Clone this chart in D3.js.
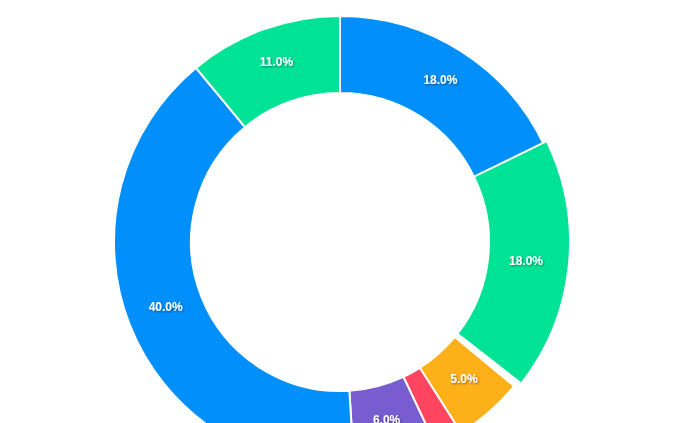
<!DOCTYPE html>
<html>
<head>
<meta charset="utf-8">
<script src="https://cdn.jsdelivr.net/npm/d3@7"></script>
<style>
  html, body { margin: 0; padding: 0; background: #fff; }
  svg { display: block; }
</style>
</head>
<body>
<div id="chart"></div>
<script>
// slice values (percent) in series order
let values = [18, 18, 5, 2, 6, 40, 11];
let colors = ["#008FFB", "#00E396", "#FEB019", "#FF4560", "#775DD0"];
let selected = 1; // the clicked / expanded slice

let width = 693;
let height = 423;
let cx = 340, cy = 242;
let outer = 226, inner = 149;

let color = d3.scaleOrdinal().domain(d3.range(values.length)).range(colors);

let svg = d3.select("#chart").append("svg")
  .attr("width", width)
  .attr("height", height);

// drop shadow for the labels
let defs = svg.append("defs");
defs.append("filter")
  .attr("id", "shadow")
  .attr("x", "-20%").attr("y", "-20%")
  .attr("width", "140%").attr("height", "140%")
  .append("feDropShadow")
  .attr("dx", 1).attr("dy", 1)
  .attr("stdDeviation", 1)
  .attr("flood-color", "#000")
  .attr("flood-opacity", 0.45);

let pie = d3.pie().sort(null).value((d) => d);
let arcs = pie(values);

let arc = d3.arc().innerRadius(inner).outerRadius(outer);

// expanded slice: angles truncated to whole degrees, radius grown a bit
function selectedPath(d) {
  let deg = 180 / Math.PI;
  let start = Math.floor(d.startAngle * deg);
  let span = Math.floor((d.endAngle - d.startAngle) * deg);
  return d3.arc()
    .innerRadius(inner)
    .outerRadius(outer + 4)
    .startAngle(start / deg)
    .endAngle((start + span) / deg)();
}

let g = svg.append("g").attr("transform", "translate(" + cx + "," + cy + ")");

g.selectAll("path")
  .data(arcs)
  .enter()
  .append("path")
  .attr("d", (d, i) => i == selected ? selectedPath(d) : arc(d))
  .attr("fill", (d, i) => color(i))
  .attr("stroke", "#fff")
  .attr("stroke-width", 2);

let mid = (inner + outer) / 2;

g.selectAll("text")
  .data(arcs.filter((d) => (d.endAngle - d.startAngle) * 180 / Math.PI >= 10))
  .enter()
  .append("text")
  .attr("x", (d) => mid * Math.sin((d.startAngle + d.endAngle) / 2))
  .attr("y", (d) => -mid * Math.cos((d.startAngle + d.endAngle) / 2))
  .attr("text-anchor", "middle")
  .attr("font-family", "Helvetica, Arial, 'Liberation Sans', sans-serif")
  .attr("font-size", "12px")
  .attr("font-weight", "bold")
  .attr("fill", "#fff")
  .attr("filter", "url(#shadow)")
  .text((d) => d.value.toFixed(1) + "%");
</script>
</body>
</html>
